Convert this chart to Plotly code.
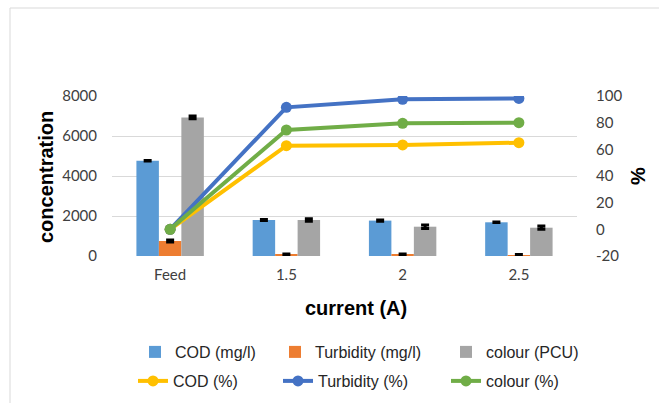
import plotly.graph_objects as go

categories = ["Feed", "1.5", "2", "2.5"]
cod_mg = [4760, 1800, 1770, 1685]
turb_mg = [750, 60, 60, 40]
colour_pcu = [6930, 1800, 1465, 1415]
cod_err = [15, 20, 30, 15]
turb_err = [50, 35, 35, 30]
colour_err = [70, 60, 90, 80]
cod_pct = [0, 62.7, 63.3, 65]
turb_pct = [0, 91.5, 97.5, 98.2]
colour_pct = [0, 74.5, 79.5, 80]

left_ticks = [0, 2000, 4000, 6000, 8000]
right_ticks = [-20, 0, 20, 40, 60, 80, 100]
right_tick_text = ["-20", "0", "20", "40", "60", "80", "100"]

W, H = 659, 403
L, R, T, B = 112, 82, 96, 147
pw, ph = W - L - R, H - T - B

def px_x(x):
    return (x - L) / pw

def px_y(y):
    return (H - B - y) / ph

fig = go.Figure()

# legend item positions (text start x, row center y) in pixels
bar_specs = [
    ("COD (mg/l)", cod_mg, cod_err, "#5B9BD5", 177, 352),
    ("Turbidity (mg/l)", turb_mg, turb_err, "#ED7D31", 317, 352),
    ("colour (PCU)", colour_pcu, colour_err, "#A5A5A5", 488, 352),
]
line_specs = [
    ("COD (%)", cod_pct, "#FFC000", 175, 381),
    ("Turbidity (%)", turb_pct, "#4472C4", 320, 381),
    ("colour (%)", colour_pct, "#70AD47", 488, 381),
]

legfont = dict(family="Liberation Sans", size=16, color="#262626")
legends = {}
idx = 1
for name, vals, err, col, lx, ly in bar_specs:
    key = "legend" if idx == 1 else f"legend{idx}"
    fig.add_trace(go.Bar(
        x=categories, y=vals, name=name,
        marker=dict(color=col, line=dict(width=0)),
        error_y=dict(type="data", array=err, visible=True, color="black",
                     thickness=3, width=4),
        legend=key, yaxis="y",
    ))
    legends[key] = dict(orientation="h", xref="container", yref="container",
                        x=(lx - 42) / W, y=1 - ly / H, xanchor="left",
                        yanchor="middle", font=legfont,
                        bgcolor="rgba(0,0,0,0)")
    idx += 1

for name, vals, col, lx, ly in line_specs:
    key = f"legend{idx}"
    fig.add_trace(go.Scatter(
        x=categories, y=vals, name=name, mode="lines+markers",
        line=dict(color=col, width=4),
        marker=dict(color=col, size=11),
        legend=key, yaxis="y2",
    ))
    legends[key] = dict(orientation="h", xref="container", yref="container",
                        x=(lx - 42) / W, y=1 - ly / H, xanchor="left",
                        yanchor="middle", font=legfont,
                        bgcolor="rgba(0,0,0,0)")
    idx += 1

tickfont = dict(family="Lato", size=15, color="#404040")

fig.update_layout(
    width=W, height=H,
    margin=dict(l=L, r=R, t=T, b=B, autoexpand=False),
    paper_bgcolor="white", plot_bgcolor="white",
    barmode="group", bargap=0.42, bargroupgap=0,
    showlegend=True,
    xaxis=dict(type="category", tickfont=tickfont, showgrid=False,
               zeroline=False, showline=False, ticks="", ticklabelstandoff=8),
    yaxis=dict(range=[0, 8000], tickvals=left_ticks, tickfont=tickfont,
               showgrid=True, gridcolor="#D9D9D9", gridwidth=1,
               zeroline=False, showline=False, ticklabelstandoff=14),
    yaxis2=dict(range=[-20, 100], tickvals=right_ticks,
                ticktext=right_tick_text, tickfont=tickfont,
                overlaying="y", side="right", showgrid=False,
                zeroline=False, showline=False, ticklabelstandoff=18),
    shapes=[dict(type="rect", xref="paper", yref="paper",
                 x0=px_x(10), x1=px_x(W + 20), y0=px_y(H + 20), y1=px_y(8),
                 line=dict(color="#D9D9D9", width=1), fillcolor="rgba(0,0,0,0)",
                 layer="below")],
    annotations=[
        dict(text="<b>concentration</b>", x=px_x(46), y=px_y(177),
             xref="paper", yref="paper", showarrow=False, textangle=-90,
             xanchor="center", yanchor="middle",
             font=dict(family="Liberation Sans", size=20, color="black")),
        dict(text="<b>%</b>", x=px_x(638), y=px_y(176),
             xref="paper", yref="paper", showarrow=False, textangle=-90,
             xanchor="center", yanchor="middle",
             font=dict(family="Liberation Sans", size=20, color="black")),
        dict(text="<b>current (A)</b>", x=px_x(356), y=px_y(308),
             xref="paper", yref="paper", showarrow=False,
             xanchor="center", yanchor="middle",
             font=dict(family="Liberation Sans", size=20, color="black")),
    ],
    **legends,
)

fig.write_html("out.html")
